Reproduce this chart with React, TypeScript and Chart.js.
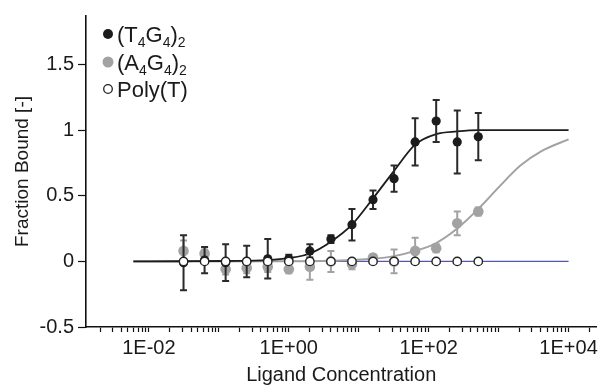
import React, { useEffect, useRef } from 'react';
import { Chart, registerables } from 'chart.js';

Chart.register(...registerables);

const FONT = "'Liberation Sans', Arial, Helvetica, sans-serif";

// Ligand concentrations of the measured points (2-fold dilution series)
const concentrations = [0.03125, 0.0625, 0.125, 0.25, 0.5, 1, 2, 4, 8, 16, 32, 64, 128, 256, 512];

// (T4G4)2 measurements
const t4g4Values = [-0.01, 0.01, -0.01, 0.0, 0.02, 0.02, 0.08, 0.17, 0.28, 0.47, 0.63, 0.91, 1.07, 0.91, 0.95];
const t4g4Errors = [0.21, 0.1, 0.14, 0.12, 0.15, 0.03, 0.05, 0.03, 0.12, 0.07, 0.1, 0.18, 0.16, 0.24, 0.18];

// (A4G4)2 measurements
const a4g4Values = [0.08, 0.06, -0.06, -0.05, -0.04, -0.06, -0.04, 0.0, -0.02, 0.03, 0.0, 0.08, 0.1, 0.29, 0.38];
const a4g4Errors = [0.08, 0.03, 0.04, 0.04, 0.04, 0.03, 0.1, 0.08, 0.04, 0.02, 0.09, 0.1, 0.03, 0.09, 0.03];

// Poly(T) measurements
const polyTValues = [0, 0, 0, 0, 0, 0, 0, 0, 0, 0, 0, 0, 0, 0, 0];

// Fit curves
const t4g4FitX = [0.006, 0.03125, 0.125, 0.5, 1, 2, 4, 8, 16, 32, 64, 128, 256, 512, 1024, 10000];
const t4g4FitY = [0, 0.001, 0.003, 0.01, 0.025, 0.06, 0.15, 0.28, 0.48, 0.69, 0.89, 0.97, 0.99, 1.0, 1.0, 1.0];
const a4g4FitX = [0.006, 1, 4, 16, 32, 64, 128, 256, 512, 1024, 2048, 4096, 10000];
const a4g4FitY = [0, 0.001, 0.005, 0.02, 0.04, 0.08, 0.14, 0.25, 0.4, 0.57, 0.73, 0.84, 0.93];
const polyTFitX = [0.006, 10000];
const polyTFitY = [0, 0];

// Legend / axis texts
const legendLabels = ['(T\u2084G\u2084)\u2082', '(A\u2084G\u2084)\u2082', 'Poly(T)'];
const xTickValues = [0.01, 1, 100, 10000];
const xTickLabels = ['1E-02', '1E+00', '1E+02', '1E+04'];
const yTickValues = [-0.5, 0, 0.5, 1, 1.5];
const yTickLabels = ['-0.5', '0', '0.5', '1', '1.5'];
const xTitle = 'Ligand Concentration';
const yTitle = 'Fraction Bound [-]';

const X_MIN = 0.00126;
const X_MAX = 25000;
const Y_MIN = -0.5;
const Y_MAX = 1.87;

const BLACK = '#1c1c1c';
const GREY = '#a2a2a2';
const BLUE = '#5157aa';

const pts = (xs: number[], ys: number[]) => xs.map((x, i) => ({ x, y: ys[i] }));

const errorBarPlugin = {
  id: 'errorBars',
  beforeDatasetDraw(chart: any, args: any) {
    const ds: any = chart.data.datasets[args.index];
    if (!ds.errors) return;
    const ctx = chart.ctx;
    const xs = chart.scales.x;
    const ys = chart.scales.y;
    ctx.save();
    ctx.strokeStyle = ds.errorColor;
    ctx.lineWidth = 2;
    ds.data.forEach((p: any, i: number) => {
      const e = ds.errors[i];
      const x = xs.getPixelForValue(p.x);
      const y1 = ys.getPixelForValue(p.y + e);
      const y2 = ys.getPixelForValue(p.y - e);
      ctx.beginPath();
      ctx.moveTo(x, y1);
      ctx.lineTo(x, y2);
      ctx.moveTo(x - 3.5, y1);
      ctx.lineTo(x + 3.5, y1);
      ctx.moveTo(x - 3.5, y2);
      ctx.lineTo(x + 3.5, y2);
      ctx.stroke();
    });
    ctx.restore();
  },
};

const legendPlugin = {
  id: 'customLegend',
  afterDraw(chart: any) {
    const ctx = chart.ctx;
    const rows = [34, 62, 89];
    const markerX = 108;
    const textX = 117;
    ctx.save();
    rows.forEach((cy, i) => {
      ctx.beginPath();
      if (i === 0) {
        ctx.arc(markerX, cy, 5, 0, Math.PI * 2);
        ctx.fillStyle = BLACK;
        ctx.fill();
      } else if (i === 1) {
        ctx.arc(markerX, cy, 5.5, 0, Math.PI * 2);
        ctx.fillStyle = GREY;
        ctx.fill();
      } else {
        ctx.arc(markerX, cy, 4.3, 0, Math.PI * 2);
        ctx.fillStyle = '#fff';
        ctx.fill();
        ctx.lineWidth = 1.3;
        ctx.strokeStyle = '#222';
        ctx.stroke();
      }
      let x = textX;
      const baseline = cy + 8;
      ctx.fillStyle = '#1a1a1a';
      ctx.textBaseline = 'alphabetic';
      ctx.textAlign = 'left';
      for (const ch of legendLabels[i]) {
        const code = ch.charCodeAt(0);
        if (code >= 0x2080 && code <= 0x2089) {
          const d = String.fromCharCode(code - 0x2080 + 48);
          ctx.font = `14px ${FONT}`;
          ctx.fillText(d, x, baseline + 5);
          x += ctx.measureText(d).width;
        } else {
          ctx.font = `22px ${FONT}`;
          ctx.fillText(ch, x, baseline);
          x += ctx.measureText(ch).width;
        }
      }
    });
    ctx.restore();
  },
};

function buildLogTicks(): number[] {
  const out: number[] = [];
  for (let d = -3; d <= 4; d++) {
    for (let m = 1; m <= 9; m++) {
      const v = m * Math.pow(10, d);
      if (v >= X_MIN && v <= X_MAX) out.push(v);
    }
  }
  return out;
}

export default function App() {
  const canvasRef = useRef<HTMLCanvasElement | null>(null);

  useEffect(() => {
    if (!canvasRef.current) return;
    const logTicks = buildLogTicks();
    const chart = new Chart(canvasRef.current, {
      type: 'scatter',
      data: {
        datasets: [
          {
            label: 'Poly(T) fit',
            data: pts(polyTFitX, polyTFitY),
            showLine: true,
            borderColor: BLUE,
            borderWidth: 1.4,
            pointRadius: 0,
            order: 6,
          },
          {
            label: '(A4G4)2 fit',
            data: pts(a4g4FitX, a4g4FitY),
            showLine: true,
            borderColor: GREY,
            borderWidth: 2,
            pointRadius: 0,
            cubicInterpolationMode: 'monotone',
            order: 5,
          },
          {
            label: '(T4G4)2 fit',
            data: pts(t4g4FitX, t4g4FitY),
            showLine: true,
            borderColor: BLACK,
            borderWidth: 1.8,
            pointRadius: 0,
            cubicInterpolationMode: 'monotone',
            order: 4,
          },
          {
            label: legendLabels[1],
            data: pts(concentrations, a4g4Values),
            errors: a4g4Errors,
            errorColor: GREY,
            pointRadius: 5.3,
            pointBackgroundColor: GREY,
            pointBorderColor: GREY,
            pointBorderWidth: 0,
            order: 3,
          } as any,
          {
            label: legendLabels[0],
            data: pts(concentrations, t4g4Values),
            errors: t4g4Errors,
            errorColor: '#2a2a2a',
            pointRadius: 4.6,
            pointBackgroundColor: BLACK,
            pointBorderColor: BLACK,
            pointBorderWidth: 0,
            order: 2,
          } as any,
          {
            label: legendLabels[2],
            data: pts(concentrations, polyTValues),
            pointRadius: 4.2,
            pointBackgroundColor: '#ffffff',
            pointBorderColor: '#222',
            pointBorderWidth: 1.4,
            order: 1,
          },
        ],
      },
      options: {
        responsive: false,
        animation: false,
        devicePixelRatio: 1,
        layout: { padding: { left: 0, top: 13, right: 4, bottom: 0 } },
        plugins: {
          legend: { display: false },
          tooltip: { enabled: false },
        },
        scales: {
          x: {
            type: 'logarithmic',
            min: X_MIN,
            max: X_MAX,
            afterBuildTicks: (scale: any) => {
              scale.ticks = logTicks.map((v) => ({ value: v }));
            },
            afterFit: (scale: any) => {
              scale.height = 60;
              scale.paddingLeft = 0;
              scale.paddingRight = 0;
            },
            grid: {
              display: true,
              drawOnChartArea: false,
              drawTicks: true,
              tickLength: 5,
              color: '#111',
              tickWidth: 1.2,
            },
            border: { display: true, color: '#111', width: 1.6 },
            ticks: {
              autoSkip: false,
              maxRotation: 0,
              minRotation: 0,
              padding: 4,
              color: '#1a1a1a',
              font: { family: FONT, size: 20 },
              callback: (value: any) => {
                const v = Number(value);
                const idx = xTickValues.findIndex((t) => Math.abs(Math.log10(t) - Math.log10(v)) < 1e-6);
                return idx >= 0 ? xTickLabels[idx] : '';
              },
            },
            title: {
              display: true,
              text: xTitle,
              color: '#1a1a1a',
              font: { family: FONT, size: 20, weight: 'normal' },
              padding: { top: 0, bottom: 0 },
            },
          },
          y: {
            type: 'linear',
            min: Y_MIN,
            max: Y_MAX,
            afterBuildTicks: (scale: any) => {
              scale.ticks = yTickValues.map((v) => ({ value: v }));
            },
            afterFit: (scale: any) => {
              scale.width = 86;
            },
            grid: {
              display: true,
              drawOnChartArea: false,
              drawTicks: true,
              tickLength: 8,
              color: '#111',
              tickWidth: 1.2,
            },
            border: { display: true, color: '#111', width: 1.6 },
            ticks: {
              padding: 4,
              color: '#1a1a1a',
              font: { family: FONT, size: 20 },
              callback: (value: any) => {
                const idx = yTickValues.findIndex((t) => Math.abs(t - Number(value)) < 1e-9);
                return idx >= 0 ? yTickLabels[idx] : '';
              },
            },
            title: {
              display: true,
              text: yTitle,
              color: '#1a1a1a',
              font: { family: FONT, size: 19, weight: 'normal' },
              padding: { top: 11, bottom: 0 },
            },
          },
        },
      },
      plugins: [errorBarPlugin, legendPlugin],
    } as any);
    return () => chart.destroy();
  }, []);

  return (
    <div style={{ position: 'absolute', left: 0, top: 0, width: 602, height: 387, background: '#fff' }}>
      <canvas ref={canvasRef} width={602} height={387} style={{ display: 'block' }} />
    </div>
  );
}
